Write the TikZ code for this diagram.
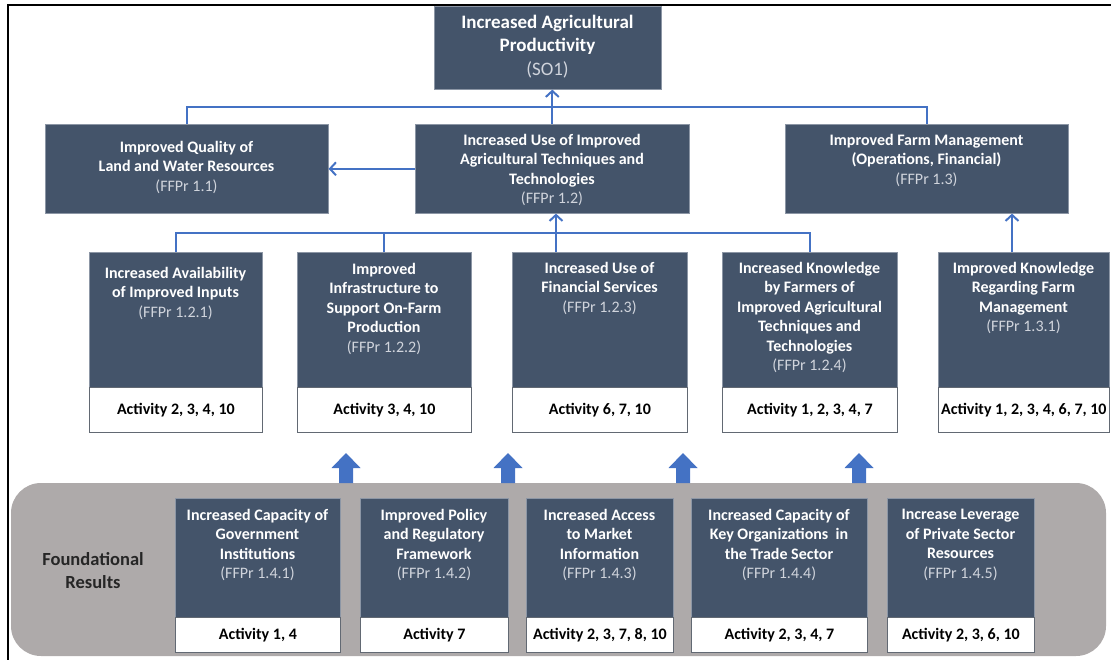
\documentclass[tikz,border=0pt]{standalone}
\usepackage{fontspec}
\setmainfont{Carlito}
\usepackage{tikz}
\usetikzlibrary{arrows.meta}

\definecolor{boxslate}{RGB}{68,84,106}
\definecolor{ffprgray}{RGB}{208,212,220}
\definecolor{linkblue}{RGB}{68,114,196}
\definecolor{bandgray}{RGB}{174,170,170}
\definecolor{edgegray}{RGB}{140,150,165}

\tikzset{
  dbox/.style={rectangle, fill=boxslate, draw=edgegray, line width=0.6pt, inner sep=0pt, anchor=north west},
  wbox/.style={rectangle, fill=white, draw=edgegray!70!black, line width=0.8pt, inner sep=0pt, anchor=north west, text=black, font=\fontsize{16}{19.5}\selectfont\bfseries},
  btxt/.style={anchor=north, align=center, inner sep=0pt, text=white, font=\fontsize{16}{19.5}\selectfont\bfseries},
  link/.style={draw=linkblue, line width=2pt},
  linkarr/.style={link, -{Straight Barb[length=6pt,width=13pt,line width=2pt]}},
}
\newcommand{\ffpr}[1]{{\mdseries\color{ffprgray}(FFPr #1)}}

\begin{document}
\begin{tikzpicture}[x=1pt,y=-1pt]
\path[use as bounding box] (0,0) rectangle (1111,659);
\clip (0,0) rectangle (1111,659);

%Frame
\draw[line width=2.5pt] (8,670) -- (8,5) -- (1120,5);
%Foundational band
\fill[bandgray, rounded corners=30pt] (11,483) rectangle (1106,656);

%Shape: Rectangle (top row)
\node[dbox, minimum width=227pt, minimum height=83pt] (so1) at (434,6) {};
\node[dbox, minimum width=283pt, minimum height=89pt] (r11) at (45,124) {};
\node[dbox, minimum width=274pt, minimum height=89pt] (r12) at (415,124) {};
\node[dbox, minimum width=283pt, minimum height=89pt] (r13) at (785,124) {};

%Shape: Rectangle (middle row)
\node[dbox, minimum width=173pt, minimum height=135pt] (r121) at (89,252) {};
\node[dbox, minimum width=174pt, minimum height=135pt] (r122) at (297,252) {};
\node[dbox, minimum width=175pt, minimum height=135pt] (r123) at (512,252) {};
\node[dbox, minimum width=175pt, minimum height=135pt] (r124) at (722,252) {};
\node[dbox, minimum width=171pt, minimum height=135pt] (r131) at (938,252) {};
\node[wbox, minimum width=173pt, minimum height=45pt] (a121) at (89,387) {Activity 2, 3, 4, 10};
\node[wbox, minimum width=174pt, minimum height=45pt] (a122) at (297,387) {Activity 3, 4, 10};
\node[wbox, minimum width=175pt, minimum height=45pt] (a123) at (512,387) {Activity 6, 7, 10};
\node[wbox, minimum width=175pt, minimum height=45pt] (a124) at (722,387) {Activity 1, 2, 3, 4, 7};
\node[wbox, minimum width=171pt, minimum height=45pt] (a131) at (938,387) {Activity 1, 2, 3, 4, 6, 7, 10};

%Shape: Rectangle (foundational row)
\node[dbox, minimum width=165pt, minimum height=119pt] (f141) at (175,498) {};
\node[dbox, minimum width=148pt, minimum height=119pt] (f142) at (360,498) {};
\node[dbox, minimum width=147pt, minimum height=119pt] (f143) at (526,498) {};
\node[dbox, minimum width=176pt, minimum height=119pt] (f144) at (691,498) {};
\node[dbox, minimum width=147pt, minimum height=119pt] (f145) at (887,498) {};
\node[wbox, minimum width=165pt, minimum height=35pt] (a141) at (175,617) {Activity 1, 4};
\node[wbox, minimum width=148pt, minimum height=35pt] (a142) at (360,617) {Activity 7};
\node[wbox, minimum width=147pt, minimum height=35pt] (a143) at (526,617) {Activity 2, 3, 7, 8, 10};
\node[wbox, minimum width=176pt, minimum height=35pt] (a144) at (691,617) {Activity 2, 3, 4, 7};
\node[wbox, minimum width=147pt, minimum height=35pt] (a145) at (887,617) {Activity 2, 3, 6, 10};

%Straight Lines
\coordinate (jtop) at (552,107);
\coordinate (jmid) at (556,233);
\coordinate (jright) at (1012,233);
\draw[link] (r11.north) |- (jtop) -| (r13.north);
\draw[linkarr] (r12.north) -- (r12.north |- so1.south);
\draw[linkarr] (r12.west) -- (r11.east);
\draw[link] (r121.north) |- (jmid) -| (r124.north);
\draw[link] (r122.north) -- (r122.north |- jmid);
\draw[linkarr] (jmid |- r123.north) -- (jmid |- r12.south);
\draw[linkarr] (jright |- r131.north) -- (jright |- r13.south);

%Block arrows
\fill[linkblue, shift={(346,483)}] (-7,0) -- (-7,-15) -- (-14.5,-15) -- (0,-30) -- (14.5,-15) -- (7,-15) -- (7,0) -- cycle;
\fill[linkblue, shift={(508,483)}] (-7,0) -- (-7,-15) -- (-14.5,-15) -- (0,-30) -- (14.5,-15) -- (7,-15) -- (7,0) -- cycle;
\fill[linkblue, shift={(683,483)}] (-7,0) -- (-7,-15) -- (-14.5,-15) -- (0,-30) -- (14.5,-15) -- (7,-15) -- (7,0) -- cycle;
\fill[linkblue, shift={(859,483)}] (-7,0) -- (-7,-15) -- (-14.5,-15) -- (0,-30) -- (14.5,-15) -- (7,-15) -- (7,0) -- cycle;

% Text Node
\node[btxt, font=\fontsize{19}{22.5}\selectfont\bfseries] (tso1) at (547.5,15) {Increased Agricultural\\Productivity\\[1.5pt]{\mdseries\color{ffprgray}(SO1)}};
% Text Node
\node[btxt] (t11) at (186.5,141) {Improved Quality of\\Land and Water Resources\\\ffpr{1.1}};
% Text Node
\node[btxt] (t12) at (552,134) {Increased Use of Improved\\Agricultural Techniques and\\Technologies\\\ffpr{1.2}};
% Text Node
\node[btxt] (t13) at (926.5,134) {Improved Farm Management\\(Operations, Financial)\\\ffpr{1.3}};
% Text Node
\node[btxt] (t121) at (175.5,267) {Increased Availability\\of Improved Inputs\\\ffpr{1.2.1}};
% Text Node
\node[btxt] (t122) at (384,263) {Improved\\Infrastructure to\\Support On-Farm\\Production\\\ffpr{1.2.2}};
% Text Node
\node[btxt] (t123) at (599.5,262) {Increased Use of\\Financial Services\\\ffpr{1.2.3}};
% Text Node
\node[btxt] (t124) at (809.5,262) {Increased Knowledge\\by Farmers of\\Improved Agricultural\\Techniques and\\Technologies\\\ffpr{1.2.4}};
% Text Node
\node[btxt] (t131) at (1023.5,262) {Improved Knowledge\\Regarding Farm\\Management\\\ffpr{1.3.1}};
% Text Node
\node[btxt] (t141) at (257.5,509) {Increased Capacity of\\Government\\Institutions\\\ffpr{1.4.1}};
% Text Node
\node[btxt] (t142) at (434,509) {Improved Policy\\and Regulatory\\Framework\\\ffpr{1.4.2}};
% Text Node
\node[btxt] (t143) at (599.5,509) {Increased Access\\to Market\\Information\\\ffpr{1.4.3}};
% Text Node
\node[btxt] (t144) at (779,509) {Increased Capacity of\\Key Organizations\ \ in\\the Trade Sector\\\ffpr{1.4.4}};
% Text Node
\node[btxt] (t145) at (960.5,509) {Increase Leverage\\of Private Sector\\Resources\\\ffpr{1.4.5}};
% Text Node
\node[align=center, inner sep=0pt, text=black!85, font=\fontsize{18.5}{23}\selectfont\bfseries] (fres) at (93,571) {Foundational\\Results};

\end{tikzpicture}
\end{document}
